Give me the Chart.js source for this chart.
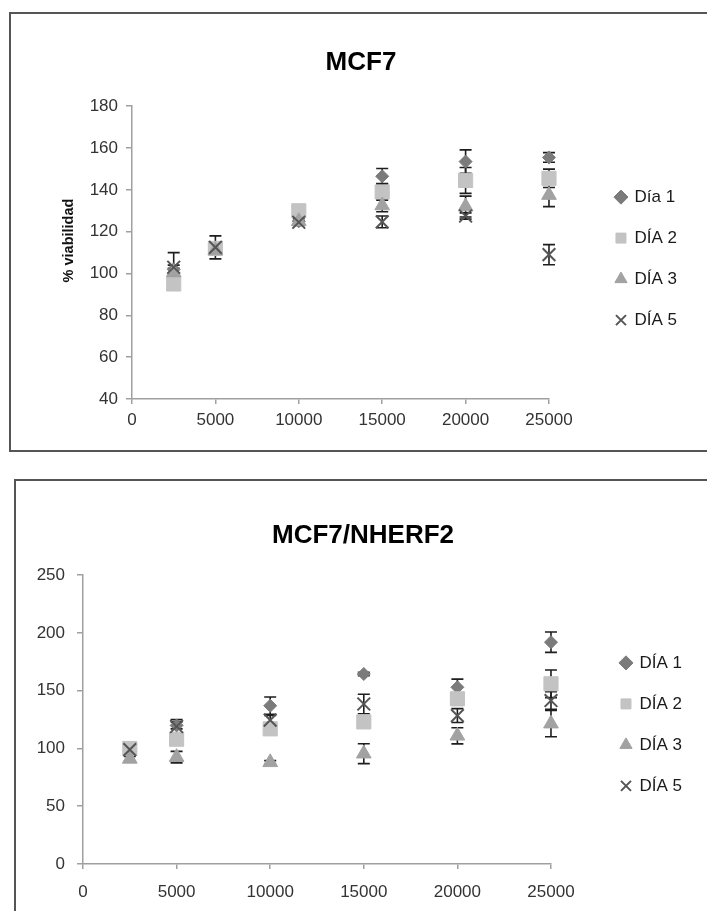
<!DOCTYPE html>
<html>
<head>
<meta charset="utf-8">
<script src="https://cdn.jsdelivr.net/npm/chart.js@4/dist/chart.umd.min.js"></script>
<style>
  body { margin: 0; background: #fff; width: 707px; height: 911px; overflow: hidden; position: relative; }
  .box { position: absolute; border: 2px solid #555; background: #fff; }
  #box1 { left: 9px; top: 12px; width: 740px; height: 436px; }
  #box2 { left: 14px; top: 479px; width: 740px; height: 480px; }
  .wrap { position: absolute; }
  #wrap1 { left: 11px; top: 14px; width: 696px; height: 434px; }
  #wrap2 { left: 16px; top: 481px; width: 691px; height: 430px; }
</style>
</head>
<body>
<div class="box" id="box1"></div>
<div class="box" id="box2"></div>
<div class="wrap" id="wrap1"><canvas id="chart1"></canvas></div>
<div class="wrap" id="wrap2"><canvas id="chart2"></canvas></div>
<script>
// cell density (x) shared by both charts
const xValues = [2500, 5000, 10000, 15000, 20000, 25000];

// MCF7
const mcf7Labels = ['Día 1', 'DÍA 2', 'DÍA 3', 'DÍA 5'];
const mcf7Dia1 = [102, 112, 125, 146.5, 153.5, 155.5];
const mcf7Dia1Err = [2, 2, 2, 3.7, 5.6, 2.3];
const mcf7Dia2 = [95, 112, 130, 139, 144.5, 145.5];
const mcf7Dia2Err = [2, 2, 2, 4, 6.2, 4.4];
const mcf7Dia3 = [100.5, 111, 125, 132.5, 132, 137.5];
const mcf7Dia3Err = [2, 2, 1.5, 3, 5, 5.5];
const mcf7Dia5 = [103, 112.5, 124.5, 124.7, 127.5, 109];
const mcf7Dia5Err = [7, 5.5, 1, 2.8, 1.5, 4.8];

// MCF7/NHERF2
const nherfLabels = ['DÍA 1', 'DÍA 2', 'DÍA 3', 'DÍA 5'];
const nherfDia1 = [97, 120, 137, 164.5, 153, 192];
const nherfDia1Err = [2, 3, 7.5, 1.5, 7, 8.8];
const nherfDia2 = [100, 108, 117, 123, 143, 156];
const nherfDia2Err = [2, 4, 4, 3, 5, 12];
const nherfDia3 = [91, 92.5, 88, 95.5, 111, 121.5];
const nherfDia3Err = [2, 5, 1.5, 8.6, 7, 11.4];
const nherfDia5 = [99, 119, 124.5, 138.5, 128.5, 141.5];
const nherfDia5Err = [2, 6, 4, 8.5, 6, 7.6];

const FONT = "'Liberation Sans', Arial, sans-serif";

// error bars go under the markers, like the original
const errorBars = {
  id: 'errorBars',
  beforeDatasetsDraw(chart) {
    const ctx = chart.ctx;
    const xs = chart.scales.x;
    const ys = chart.scales.y;
    ctx.save();
    ctx.strokeStyle = '#1e1e1e';
    ctx.lineWidth = 1.6;
    chart.data.datasets.forEach(ds => {
      ds.data.forEach((p, i) => {
        const e = ds.errors[i];
        if (!e) return;
        const px = xs.getPixelForValue(p.x);
        const top = ys.getPixelForValue(p.y + e);
        const bot = ys.getPixelForValue(p.y - e);
        ctx.beginPath();
        ctx.moveTo(px, top); ctx.lineTo(px, bot);
        ctx.moveTo(px - 6, top); ctx.lineTo(px + 6, top);
        ctx.moveTo(px - 6, bot); ctx.lineTo(px + 6, bot);
        ctx.stroke();
      });
    });
    ctx.restore();
  }
};

function points(vals) {
  return vals.map((v, i) => ({ x: xValues[i], y: v }));
}

function makeDatasets(labels, series, errs) {
  const styles = [
    { pointStyle: 'rectRot', radius: 6.5, color: '#7b7b7b', border: 1 },
    { pointStyle: 'rect', radius: 10, color: '#c3c3c3', border: 1 },
    { pointStyle: 'triangle', radius: 8.5, color: '#a2a2a2', border: 1 },
    { pointStyle: 'crossRot', radius: 9, color: '#555555', border: 2 }
  ];
  return series.map((s, i) => ({
    label: labels[i],
    data: points(s),
    errors: errs[i],
    pointStyle: styles[i].pointStyle,
    pointRadius: styles[i].radius,
    pointBackgroundColor: styles[i].color,
    pointBorderColor: styles[i].color,
    pointBorderWidth: styles[i].border,
    backgroundColor: styles[i].color,
    borderColor: styles[i].color,
    showLine: false,
    clip: false,
    order: 4 - i
  }));
}

function makeChart(id, cfg) {
  const axisColor = '#a0a0a0';
  return new Chart(document.getElementById(id), {
    type: 'scatter',
    data: { datasets: makeDatasets(cfg.labels, cfg.series, cfg.errs) },
    plugins: [errorBars],
    options: {
      responsive: true,
      maintainAspectRatio: false,
      animation: false,
      events: [],
      layout: { padding: { left: cfg.padLeft, right: cfg.padRight, top: 0, bottom: 0 } },
      plugins: {
        tooltip: { enabled: false },
        title: {
          display: true,
          text: cfg.title,
          color: '#000',
          font: { family: FONT, size: 26, weight: 'bold' },
          padding: cfg.titlePad
        },
        legend: {
          display: true,
          position: 'right',
          fullSize: false,
          align: 'center',
          title: { display: true, text: ' ', font: { size: cfg.legendShift }, padding: 0 },
          labels: {
            usePointStyle: true,
            boxWidth: 10,
            boxHeight: 10,
            padding: 24,
            color: '#1a1a1a',
            font: { family: FONT, size: 17 },
            sort: (a, b) => a.datasetIndex - b.datasetIndex
          }
        }
      },
      scales: {
        x: {
          type: 'linear',
          min: 0,
          max: 25000,
          ticks: { stepSize: 5000, color: '#333', font: { family: FONT, size: 17 }, padding: cfg.xTickPad, maxRotation: 0, callback: v => String(v) },
          grid: { drawOnChartArea: false, drawTicks: true, tickLength: 5, color: axisColor, lineWidth: 1.5 },
          border: { color: axisColor, width: 1.5 },
          afterFit: s => { s.height = cfg.xHeight; }
        },
        y: {
          type: 'linear',
          min: cfg.yMin,
          max: cfg.yMax,
          ticks: { stepSize: cfg.yStep, color: '#333', font: { family: FONT, size: 17 }, padding: cfg.yTickPad, callback: v => String(v) },
          grid: { drawOnChartArea: false, drawTicks: true, tickLength: 6, color: axisColor, lineWidth: 1.5 },
          border: { color: axisColor, width: 1.5 },
          title: cfg.yTitle ? {
            display: true,
            text: cfg.yTitle,
            color: '#111',
            font: { family: FONT, size: 14.5, weight: 'bold' },
            padding: { top: 49 - cfg.padLeft, bottom: 0 }
          } : { display: false },
          afterFit: s => { s.width = cfg.yWidth; }
        },
        spacer: {
          type: 'linear',
          position: 'right',
          display: true,
          ticks: { display: false },
          grid: { display: false },
          border: { display: false },
          afterFit: s => { s.width = cfg.spacer; }
        }
      }
    }
  });
}

makeChart('chart1', {
  title: 'MCF7',
  labels: mcf7Labels,
  series: [mcf7Dia1, mcf7Dia2, mcf7Dia3, mcf7Dia5],
  errs: [mcf7Dia1Err, mcf7Dia2Err, mcf7Dia3Err, mcf7Dia5Err],
  yMin: 40, yMax: 180, yStep: 20,
  yTitle: '      % viabilidad',
  yWidth: 97, xHeight: 49,
  titlePad: { top: 33, bottom: 28 },
  xTickPad: 6, yTickPad: 8,
  spacer: 43, padRight: 20, padLeft: 24,
  legendShift: 10
});

makeChart('chart2', {
  title: 'MCF7/NHERF2',
  labels: nherfLabels,
  series: [nherfDia1, nherfDia2, nherfDia3, nherfDia5],
  errs: [nherfDia1Err, nherfDia2Err, nherfDia3Err, nherfDia5Err],
  yMin: 0, yMax: 250, yStep: 50,
  yTitle: null,
  yWidth: 49, xHeight: 47,
  titlePad: { top: 39, bottom: 24 },
  xTickPad: 13, yTickPad: 12,
  spacer: 46, padRight: 15, padLeft: 18,
  legendShift: 8
});
</script>
</body>
</html>
